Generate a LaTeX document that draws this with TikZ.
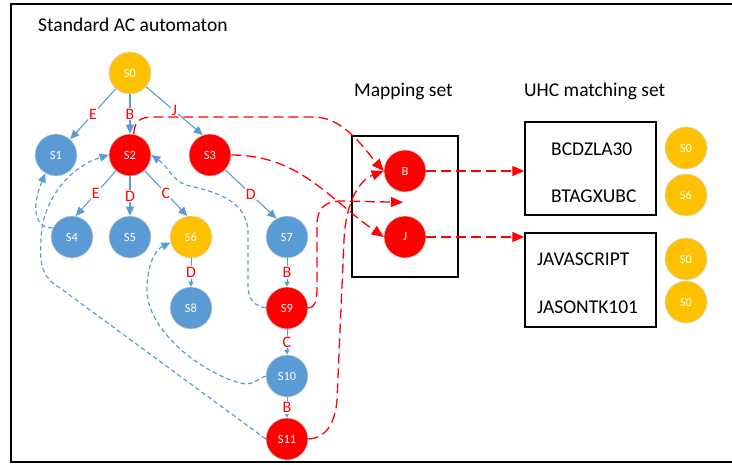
\documentclass[tikz,border=0pt]{standalone}
\usepackage{fontspec}
\setmainfont{Carlito}
\usepackage{xcolor}
\usepackage{tikz}
\usetikzlibrary{positioning, arrows.meta}

\definecolor{acblue}{HTML}{5B9BD5}
\definecolor{acgold}{HTML}{FFC000}
\definecolor{acred}{HTML}{FF0000}

\tikzset{
  st/.style={circle, minimum size=42pt, inner sep=0pt, text=white,
    font=\fontsize{12.5}{13}\selectfont, draw=black!15, line width=0.6pt},
  blue st/.style={st, fill=acblue},
  gold st/.style={st, fill=acgold},
  red st/.style={st, fill=acred},
  tr/.style={color=acblue, line width=1.1pt, -{Triangle[length=9pt,width=8pt]}},
  short tr/.style={color=acblue, line width=0.9pt, -{Triangle[length=5pt,width=5pt]}},
  fail/.style={color=acblue, line width=1.2pt, dash pattern=on 4.5pt off 3pt,
    -{Triangle[length=9pt,width=8pt]}},
  hit/.style={color=acred, line width=1.3pt, dash pattern=on 10pt off 5pt,
    -{Triangle[length=12pt,width=10pt]}},
  lbl/.style={fill=white, text=acred, inner sep=1pt, font=\fontsize{16}{17}\selectfont},
  ttl/.style={anchor=base west, inner sep=0pt, font=\fontsize{19.5}{20}\selectfont},
  setbox/.style={draw, line width=1.5pt, inner sep=0pt},
}

\begin{document}
\begin{tikzpicture}[x=1pt, y=1pt, node distance=80pt]
\useasboundingbox (0,0) rectangle (732,-464);
\clip (0,0) rectangle (732,-464);
\draw[line width=1.3pt] (11,-4) rectangle (740,-462);

\node[ttl] (t1) at (38,-31) {Standard AC automaton};
\node[ttl] (t2) at (354,-96) {Mapping set};
\node[ttl] (t3) at (524,-96) {UHC matching set};

% automaton
\node[gold st] (S0) at (130,-73) {S0};
\node[red st, below of=S0, yshift=-2pt] (S2) {S2};
\node[blue st, left of=S2, xshift=6pt] (S1) {S1};
\node[red st, right of=S2] (S3) {S3};
\node[blue st, below of=S2, yshift=-2pt] (S5) {S5};
\node[blue st, left of=S5, xshift=22pt] (S4) {S4};
\node[gold st, right of=S5, xshift=-19pt] (S6) {S6};
\node[blue st, right of=S6, xshift=16pt] (S7) {S7};
\node[blue st, below of=S6, yshift=9pt] (S8) {S8};
\node[red st, below of=S7, yshift=9pt] (S9) {S9};
\node[blue st, below of=S9, yshift=12pt] (S10) {S10};
\node[red st, below of=S10, yshift=17pt] (S11) {S11};

% mapping set and UHC set
\node[setbox, minimum width=106pt, minimum height=141pt] (M) at (405,-206.5) {};
\node[red st] (B) at (405,-171) {B};
\node[red st, below of=B, yshift=14pt] (J) {J};
\node[setbox, minimum width=131pt, minimum height=93pt] (U1) at (590.5,-168.5) {};
\node[setbox, minimum width=131pt, minimum height=94pt] (U2) at (590.5,-280) {};
\node[ttl] (w1) at (551,-155) {BCDZLA30};
\node[ttl] (w2) at (551,-202) {BTAGXUBC};
\node[ttl] (w3) at (537,-265) {JAVASCRIPT};
\node[ttl] (w4) at (537,-313) {JASONTK101};
\node[gold st] (o1) at (686,-148) {S0};
\node[gold st, below of=o1, yshift=33pt] (o2) {S6};
\node[gold st] (o3) at (686,-259) {S0};
\node[gold st, below of=o3, yshift=37pt] (o4) {S0};

% goto edges
\draw[tr] (S0) edge node[lbl]{E} (S1)
          (S0) edge node[lbl]{B} (S2)
          (S0) edge node[lbl]{J} (S3.110)
          (S2) edge node[lbl]{E} (S4.80)
          (S2) edge node[lbl]{D} (S5)
          (S2) edge node[lbl]{C} (S6.100)
          (S3) edge node[lbl]{D} (S7.120);
\draw[short tr] (S6) edge node[lbl]{D} (S8)
          (S7) edge node[lbl]{B} (S9)
          (S9) edge node[lbl]{C} (S10)
          (S10) edge node[lbl]{B} (S11);

% failure links
\draw[fail] (S4.155) .. controls (33,-228) and (32,-205) .. (S1.-120);
\draw[fail] (S11.west) -- (60,-288) .. controls (40,-276) and (40,-262) .. (41,-240)
   .. controls (42,-195) and (75,-165) .. (S2.west);
\draw[fail] (S10.west) .. controls (256,-380) and (252,-386) .. (240,-383)
   .. controls (200,-372) and (147,-330) .. (147,-290)
   .. controls (147,-265) and (155,-250) .. (S6.195);
\draw[fail] (S9.west) .. controls (255,-306) and (248,-300) .. (248,-285)
   -- (248,-232) .. controls (247,-200) and (215,-192) .. (190,-186)
   .. controls (172,-182) and (170,-168) .. (S2.east);

% mapping links
\coordinate (Bfoot) at ([shift={(-2pt,-10pt)}]B.south);
\draw[hit] (S2.80) .. controls (135,-120) and (140,-117) .. (155,-117)
   -- (315,-117) .. controls (345,-118) and (365,-150) .. (B.west);
\draw[hit] (S3.east) to[out=0,in=145] (J.west);
\draw[hit] (S9.east) .. controls (314,-308) and (317,-302) .. (317,-290)
   -- (317,-225) .. controls (317,-208) and (325,-201) .. (342,-201) -- (Bfoot);
\draw[hit] (S11.east) .. controls (325,-438) and (335,-425) .. (337,-400)
   -- (344,-240) .. controls (346,-200) and (360,-180) .. (B.west);
\draw[hit] (B) -- (B -| U1.west);
\draw[hit] (J) -- (J -| U2.west);
\end{tikzpicture}
\end{document}
